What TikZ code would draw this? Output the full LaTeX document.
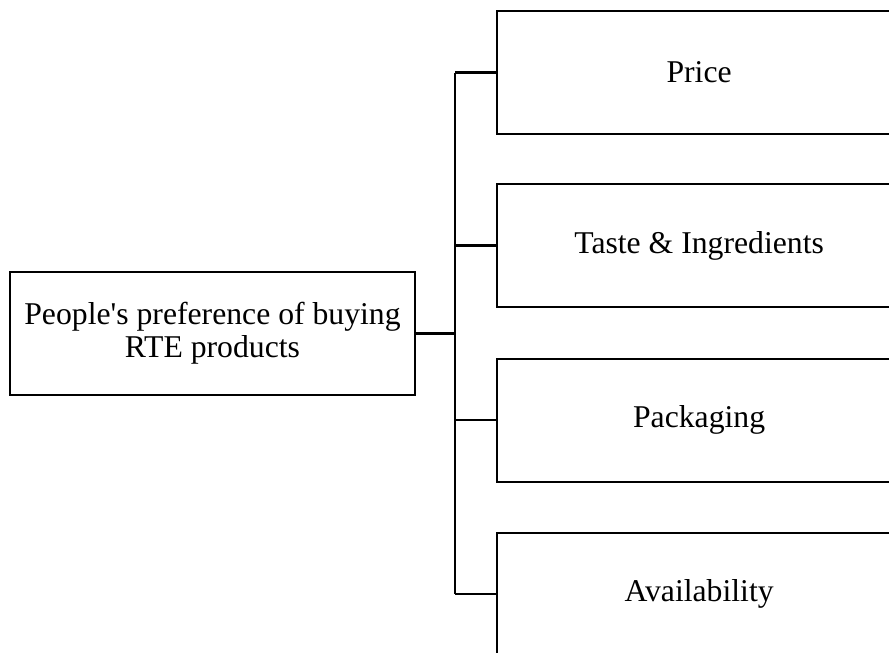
\documentclass[tikz,border=0pt]{standalone}
\usepackage{fontspec}
\setmainfont{Liberation Serif}
\usetikzlibrary{positioning}

\begin{document}
\begin{tikzpicture}[x=1pt, y=-1pt,
                factor/.style={draw, line width=2.2pt, minimum width=404pt, minimum height=123pt,
                               align=center, font=\fontsize{31.7}{33}\selectfont, inner sep=0pt},
                link/.style={line width=2.2pt}]

                % Frame of the page, boxes on the right run past it
                \useasboundingbox (0,0) rectangle (889,653);
                \clip (0,0) rectangle (889,653);

                % Main box - left side
                \node[factor, minimum width=405pt] (pref) at (212.5,333.5) {People\textquotesingle s preference of buying\\RTE products};

                % Factors - right side
                \node[factor, anchor=west] (price) at (496,72.5) {Price};
                \node[factor, below=47.8pt of price] (taste) {Taste \& Ingredients};
                \node[factor, below=49.5pt of taste] (pack) {Packaging};
                \node[factor, below=48.8pt of pack] (avail) {Availability};

                % Bus between the two sides
                \coordinate (bus) at (455,333.5);
                \draw[link] (pref.east) -- (bus);
                \draw[link] (bus |- price.west) -- (bus |- avail.west);
                \draw[link] (bus |- price.west) -- (price.west);
                \draw[link] (bus |- taste.west) -- (taste.west);
                \draw[link] (bus |- pack.west) -- (pack.west);
                \draw[link] (bus |- avail.west) -- (avail.west);
            \end{tikzpicture}
\end{document}
